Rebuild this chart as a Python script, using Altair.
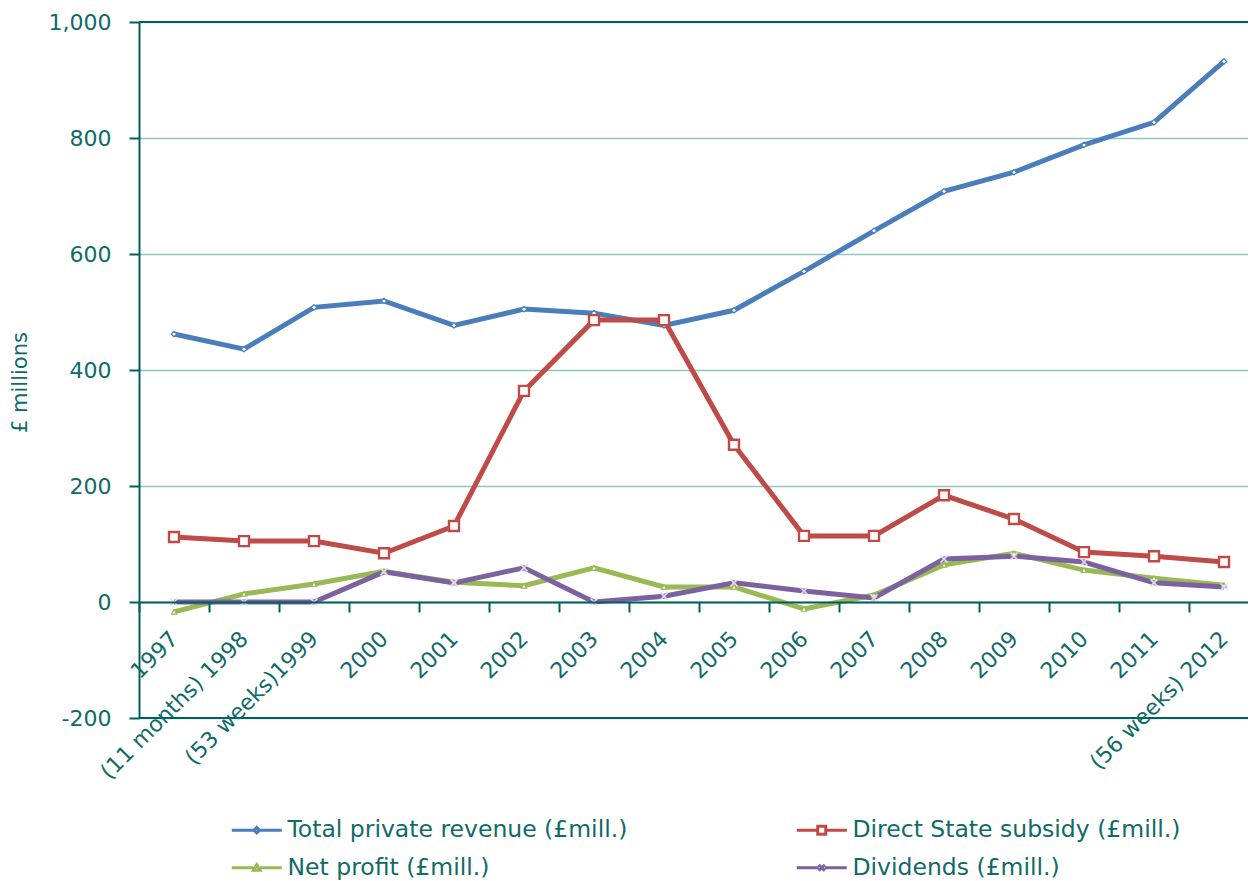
import altair as alt
import pandas as pd

years = ["1997", "(11 months) 1998", "(53 weeks)1999", "2000", "2001", "2002", "2003",
         "2004", "2005", "2006", "2007", "2008", "2009", "2010", "2011", "(56 weeks) 2012"]

series = ["Total private revenue (£mill.)", "Net profit (£mill.)",
          "Direct State subsidy (£mill.)", "Dividends (£mill.)"]

revenue = [462, 436, 508, 519, 477, 505, 498, 477, 503, 570, 640, 708, 741, 788, 827, 932]
profit = [-17, 14, 31, 53, 34, 28, 59, 26, 26, -12, 12, 64, 84, 55, 41, 29]
subsidy = [112, 105, 105, 84, 131, 364, 486, 486, 271, 114, 114, 184, 143, 86, 79, 69]
dividends = [0, 0, 0, 52, 33, 59, 0, 10, 33, 19, 7, 74, 79, 69, 33, 26]

colors = ["#4a7ebb", "#98b954", "#be4b48", "#7d60a0"]
legend_paths = [
    "M-5,0H-0.55M0.55,0H5M0,-0.55L0.55,0L0,0.55L-0.55,0Z",
    "M-5,0H-0.65M0.65,0H5M0,-0.6L0.65,0.5H-0.65Z",
    "M-5,0H-0.8M0.8,0H5M-0.8,-0.8H0.8V0.8H-0.8Z",
    "M-5,0H-0.6M0.6,0H5M-0.6,-0.6L0.6,0.6M-0.6,0.6L0.6,-0.6",
]

rows = []
for s, vals in zip(series, [revenue, profit, subsidy, dividends]):
    for y, v in zip(years, vals):
        rows.append({"year": y, "series": s, "value": v})
df = pd.DataFrame(rows)

TEXT = "#0f6a68"
AXIS = "#00605e"
GRID = "#8fc6c4"
FONT = "DejaVu Sans"

x_enc = alt.X(
    "year:N", sort=years, bandPosition=0.5,
    scale=alt.Scale(type="band", paddingInner=0, paddingOuter=0, range=[0, 1120]),
    axis=alt.Axis(title=None, labelAngle=-45, labelAlign="right", labelBaseline="middle",
                  labelFontSize=22, labelColor=TEXT, labelFont=FONT, labelPadding=23,
                  tickBand="extent", tickSize=10, tickColor=AXIS, tickWidth=2,
                  domainColor=AXIS, domainWidth=2, offset=-116, grid=False,
                  labelOverlap=False, labelLimit=400, zindex=1),
)
y_enc = alt.Y(
    "value:Q",
    scale=alt.Scale(domain=[-200, 1000], nice=False, zero=False),
    axis=alt.Axis(title="£ millions", values=[-200, 0, 200, 400, 600, 800, 1000],
                  labelExpr="replace(format(datum.value, ',.0f'), '\u2212', '-')",
                  labelFontSize=22, labelColor=TEXT, labelFont=FONT, labelPadding=18,
                  titleFontSize=21, titleColor=TEXT, titleFont=FONT, titleFontWeight="normal",
                  titleX=-119, titleY=360, titleAngle=-90, titleAlign="center", titleBaseline="middle",
                  tickSize=10, tickColor=AXIS, tickWidth=2,
                  domainColor=AXIS, domainWidth=2, gridColor=GRID, gridWidth=1.5),
)

leg = alt.Legend(title=None, orient="none", legendX=106, legendY=796, columns=2,
                 columnPadding=162, rowPadding=13, symbolSize=100, symbolStrokeWidth=3,
                 labelFontSize=23.5, labelColor=TEXT, labelFont=FONT, labelOffset=19,
                 padding=0, symbolOpacity=1, symbolFillColor="white", labelLimit=600)

color_enc = alt.Color("series:N", scale=alt.Scale(domain=series, range=colors), legend=leg, sort=series)

lines = alt.Chart(df).mark_line(strokeWidth=5).encode(
    x=x_enc, y=y_enc, color=color_enc
)

border = alt.Chart(pd.DataFrame({"v": [-200, 1000]})).mark_rule(
    color=AXIS, strokeWidth=2
).encode(y=alt.Y("v:Q"))

marker_defs = {
    series[0]: ("diamond", 30, "white", colors[0], 1.2),
    series[1]: ("triangle-up", 28, "white", colors[1], 1.2),
    series[2]: ("square", 100, "white", colors[2], 2.4),
    series[3]: ("M-1,-1L1,1M-1,1L1,-1", 50, "none", "#e3dcef", 1.6),
}
markers = []
for s in [series[0], series[2], series[1], series[3]]:
    shp, size, fill, stroke, sw = marker_defs[s]
    markers.append(
        alt.Chart(df).transform_filter(alt.datum.series == s).mark_point(
            shape=shp, size=size, filled=fill != "none", fill=fill if fill != "none" else "transparent",
            stroke=stroke, strokeWidth=sw, opacity=1
        ).encode(x=x_enc, y=y_enc)
    )

legend_layer = alt.Chart(df).mark_point(opacity=0, strokeWidth=3).encode(
    x=x_enc, y=y_enc,
    color=color_enc,
    shape=alt.Shape("series:N", scale=alt.Scale(domain=series, range=legend_paths), legend=leg, sort=series),
)

chart = alt.layer(legend_layer, border, lines, *markers).properties(
    width=1109, height=696,
    padding={"left": 131, "top": 14, "right": 0, "bottom": 163},
    autosize=alt.AutoSizeParams(type="none"),
).configure_view(stroke=None).configure(font=FONT)

chart.save("out.html", embed_options={"renderer": "svg", "actions": False})
